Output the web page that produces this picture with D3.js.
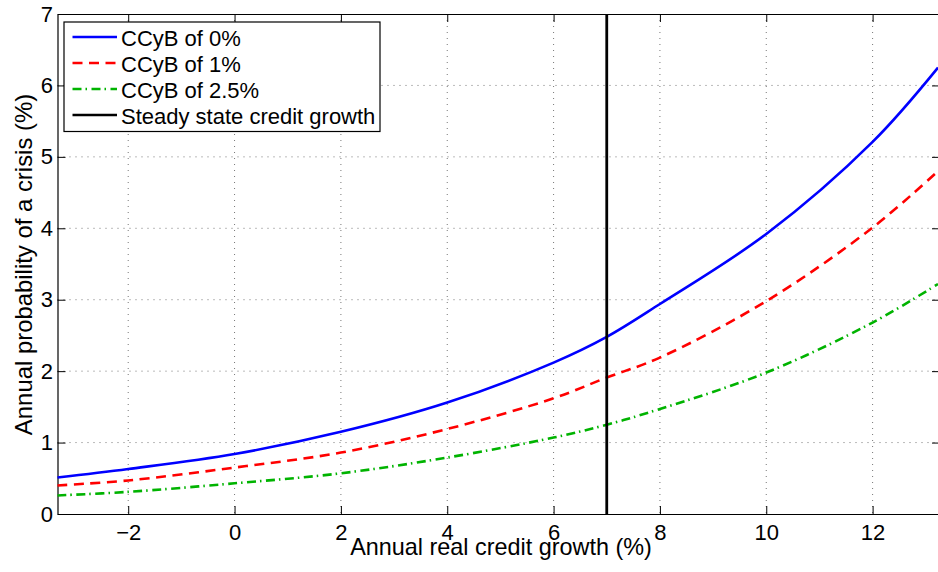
<!DOCTYPE html>
<html>
<head>
<meta charset="utf-8">
<script src="https://cdn.jsdelivr.net/npm/d3@7"></script>
<style>
  html, body { margin: 0; padding: 0; background: #fff; }
  svg { display: block; font-family: "Liberation Sans", Arial, sans-serif; }
</style>
</head>
<body>
<svg id="chart" width="938" height="572"></svg>
<script>
// ---- data ----
const creditGrowth = [-3.33, -2, 0, 2, 4, 6, 7, 8, 10, 12, 13.23];
const ccyb0   = [0.51, 0.63, 0.84, 1.15, 1.56, 2.12, 2.48, 2.94, 3.92, 5.21, 6.25];
const ccyb1   = [0.40, 0.47, 0.65, 0.86, 1.19, 1.62, 1.91, 2.19, 2.98, 4.01, 4.80];
const ccyb25  = [0.26, 0.31, 0.43, 0.57, 0.79, 1.07, 1.25, 1.47, 1.98, 2.68, 3.22];
const steadyState = 7;
const xTicks = [-2, 0, 2, 4, 6, 8, 10, 12];
const yTicks = [0, 1, 2, 3, 4, 5, 6, 7];
const seriesNames = ["CCyB of 0%", "CCyB of 1%", "CCyB of 2.5%", "Steady state credit growth"];

// ---- layout ----
const svg = d3.select("#chart");
const L = 57.5, T = 14, R = 940, B = 514;
const x = d3.scaleLinear().domain([-3.33, 13.23]).range([L, 938]);
const y = d3.scaleLinear().domain([0, 7]).range([B, T]);

// grid
const grid = svg.append("g");
grid.selectAll("line.gx").data(xTicks).join("line")
  .attr("x1", d => x(d)).attr("x2", d => x(d)).attr("y1", T).attr("y2", B)
  .attr("stroke", "#777").attr("stroke-width", 1).attr("stroke-dasharray", "1,5");
grid.selectAll("line.gy").data(yTicks.slice(1, -1)).join("line")
  .attr("y1", d => y(d)).attr("y2", d => y(d)).attr("x1", L).attr("x2", R)
  .attr("stroke", "#777").attr("stroke-width", 1).attr("stroke-dasharray", "1,5");

// axes (MATLAB style, inward ticks)
const tickLen = 8;
const xAxisB = svg.append("g").attr("transform", `translate(0,${B})`)
  .call(d3.axisBottom(x).tickValues(xTicks).tickSizeInner(-tickLen).tickSizeOuter(0).tickPadding(10)
    .tickFormat(d => d < 0 ? "\u2212" + Math.abs(d) : String(d)));
const xAxisT = svg.append("g").attr("transform", `translate(0,${T})`)
  .call(d3.axisTop(x).tickValues(xTicks).tickSizeInner(-tickLen).tickSizeOuter(0).tickFormat(""));
const yAxisL = svg.append("g").attr("transform", `translate(${L},0)`)
  .call(d3.axisLeft(y).tickValues(yTicks).tickSizeInner(-tickLen).tickSizeOuter(0).tickPadding(4.5)
    .tickFormat(d3.format("d")));
const yAxisR = svg.append("g").attr("transform", `translate(${R},0)`)
  .call(d3.axisRight(y).tickValues(yTicks).tickSizeInner(-tickLen).tickSizeOuter(0).tickFormat(""));
[xAxisB, xAxisT, yAxisL, yAxisR].forEach(g => {
  g.selectAll("path.domain").attr("stroke", "#000").attr("stroke-width", 1.2);
  g.selectAll(".tick line").attr("stroke", "#000").attr("stroke-width", 1);
  g.selectAll(".tick text").attr("fill", "#000").attr("font-size", 22)
    .attr("font-family", "Liberation Sans, Arial, sans-serif");
});
xAxisB.selectAll(".tick text").attr("y", 10).attr("dy", "0.71em");

// curves
const line = d3.line().x((d, i) => x(creditGrowth[i])).y(d => y(d))
  .curve(d3.curveCatmullRom.alpha(0.5));
const styles = [
  { color: "#0000ff", dash: null },
  { color: "#ff0000", dash: "10,6.5" },
  { color: "#00b300", dash: "9,4,1.5,4.5" }
];
const plot = svg.append("g");
[ccyb0, ccyb1, ccyb25].forEach((vals, k) => {
  plot.append("path").datum(vals).attr("d", line)
    .attr("fill", "none").attr("stroke", styles[k].color).attr("stroke-width", 2.6)
    .attr("stroke-dasharray", styles[k].dash);
});
// steady state vertical line
plot.append("line").attr("x1", x(steadyState)).attr("x2", x(steadyState))
  .attr("y1", y(7)).attr("y2", y(0)).attr("stroke", "#000").attr("stroke-width", 2.8);

// axis titles
svg.append("text").attr("x", 501).attr("y", 554.5)
  .attr("text-anchor", "middle").attr("font-size", 23.4).attr("fill", "#000")
  .text("Annual real credit growth (%)");
svg.append("text").attr("transform", `translate(31.5,264.5) rotate(-90)`)
  .attr("text-anchor", "middle").attr("font-size", 23.9).attr("fill", "#000")
  .text("Annual probability of a crisis (%)");

// legend
const lg = svg.append("g");
lg.append("rect").attr("x", 64).attr("y", 22).attr("width", 316).attr("height", 109.5)
  .attr("fill", "#fff").attr("stroke", "#000").attr("stroke-width", 1.2);
const legendStyles = styles.concat([{ color: "#000", dash: null }]);
seriesNames.forEach((name, i) => {
  const yy = 37 + i * 26;
  lg.append("line").attr("x1", 72.5).attr("x2", 117).attr("y1", yy).attr("y2", yy)
    .attr("stroke", legendStyles[i].color).attr("stroke-width", 2.6)
    .attr("stroke-dasharray", legendStyles[i].dash);
  lg.append("text").attr("x", 121).attr("y", yy + 1.5).attr("dominant-baseline", "central")
    .attr("font-size", 22).attr("fill", "#000").text(name);
});
</script>
</body>
</html>
